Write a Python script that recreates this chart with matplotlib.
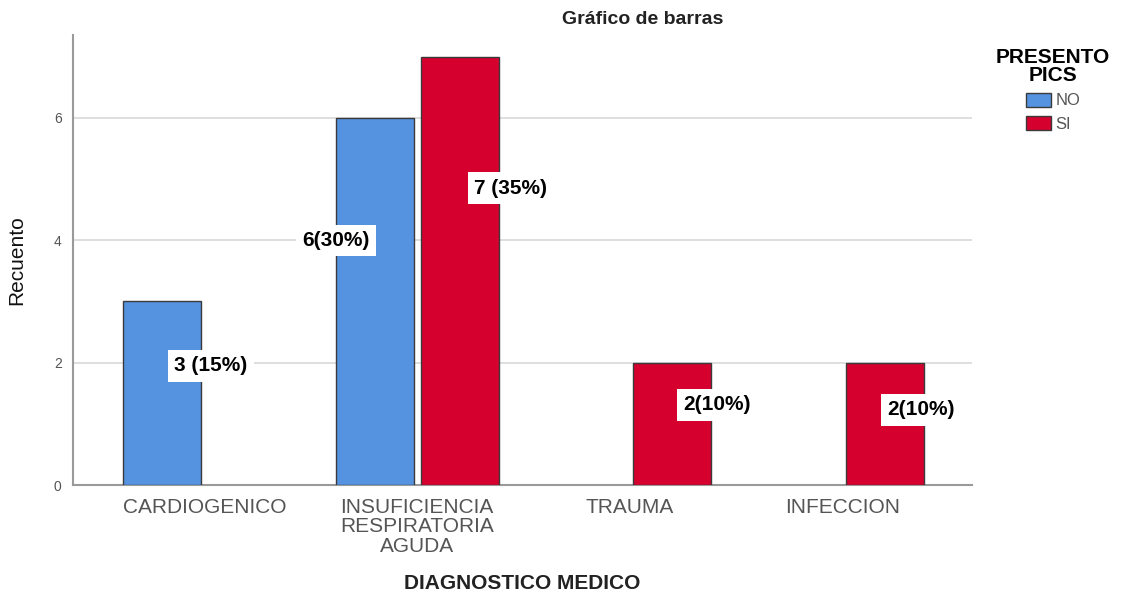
import numpy as np
import matplotlib
matplotlib.use("Agg")
import matplotlib.pyplot as plt
from matplotlib.patches import Patch

# categories + counts per group
categories = ["CARDIOGENICO", "INSUFICIENCIA\nRESPIRATORIA\nAGUDA", "TRAUMA", "INFECCION"]
no_counts = [3, 6, 0, 0]
si_counts = [0, 7, 2, 2]
groups = ["NO", "SI"]

# annotation labels with their approximate spots
ann_text = ["3 (15%)", "6(30%)", "7 (35%)", "2(10%)", "2(10%)"]
ann_x = [0.03, 0.62, 1.44, 2.41, 3.37]
ann_y = [1.95, 4.0, 4.85, 1.31, 1.23]

BLUE = "#5592e0"
RED = "#d6002f"
EDGE = "#3a3a3a"
GRAY = "#9a9a9a"

plt.rcParams["font.family"] = ["Liberation Sans", "DejaVu Sans"]

fig = plt.figure(figsize=(11.38, 5.96), dpi=100)
ax = fig.add_axes([0.064, 0.186, 0.79, 0.755])

x = np.arange(len(categories))
w = 0.366
off = 0.2
for i in range(len(categories)):
    if no_counts[i] > 0:
        ax.bar(x[i] - off, no_counts[i], w, color=BLUE, edgecolor=EDGE, linewidth=1, zorder=3)
    if si_counts[i] > 0:
        ax.bar(x[i] + off, si_counts[i], w, color=RED, edgecolor=EDGE, linewidth=1, zorder=3)

for t, xx, yy in zip(ann_text, ann_x, ann_y):
    ax.text(xx, yy, t, ha="center", va="center", fontsize=15, fontweight="bold",
            color="black", zorder=5,
            bbox=dict(boxstyle="square,pad=0.3", facecolor="white", edgecolor="none"))

ax.set_xlim(-0.62, 3.61)
ax.set_ylim(0, 7.35)
ax.set_yticks([0, 2, 4, 6])
ax.set_xticks(x)
ax.set_xticklabels(categories, fontsize=15, color="#555555", linespacing=1.05)
ax.tick_params(axis="y", length=0, labelsize=10, labelcolor="#555555", pad=8)
ax.tick_params(axis="x", length=0, pad=9)

ax.yaxis.grid(True, color="#d8d8d8", linewidth=1.2, zorder=0)
ax.set_axisbelow(True)
for s in ["top", "right"]:
    ax.spines[s].set_visible(False)
for s in ["left", "bottom"]:
    ax.spines[s].set_color(GRAY)
    ax.spines[s].set_linewidth(1.5)

ax.set_ylabel("Recuento", fontsize=15, color="#111111", labelpad=20)
ax.set_xlabel("DIAGNOSTICO MEDICO", fontsize=15, fontweight="bold", color="#222222", labelpad=13)

fig.text(0.565, 0.968, "Gráfico de barras", ha="center", va="center",
         fontsize=14, fontweight="bold", color="#222222")

handles = [Patch(facecolor=BLUE, edgecolor=EDGE, label="NO"),
           Patch(facecolor=RED, edgecolor=EDGE, label="SI")]
leg = fig.legend(handles=handles, title="PRESENTO\nPICS", loc="upper left",
                 bbox_to_anchor=(0.862, 0.945), frameon=False, fontsize=12,
                 title_fontsize=15, handlelength=1.5, handleheight=0.95,
                 handletextpad=0.25, labelspacing=0.45, labelcolor="#555555")
leg.get_title().set_fontweight("bold")
leg.get_title().set_multialignment("center")
leg.get_title().set_linespacing(0.95)

fig.savefig("out.png", dpi=100)
